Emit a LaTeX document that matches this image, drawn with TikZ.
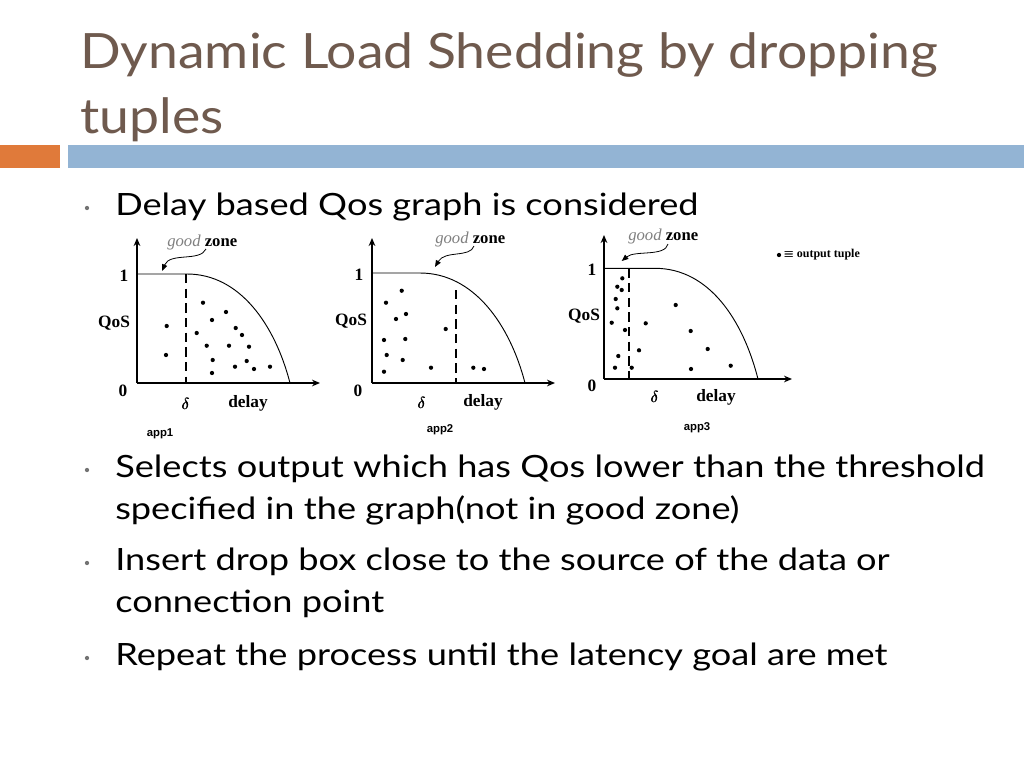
\documentclass[tikz,border=0pt]{standalone}
\usepackage{amsmath,amssymb}
\usepackage{fontspec}
\setmainfont{Lato}
\newfontfamily\bodyf[FakeStretch=1.18]{Lato}
\newfontfamily\titlef[FakeStretch=1.1]{Lato}
\newfontfamily\gserif{Liberation Serif}
\newfontfamily\gsans{Liberation Sans}
\usetikzlibrary{arrows.meta}
\definecolor{titlec}{HTML}{6F5A4E}
\definecolor{orangebar}{HTML}{E07A3A}
\definecolor{bluebar}{HTML}{93B4D4}
\tikzset{
  ax/.style={line width=1.6pt,-{Stealth[length=6pt,width=5pt]}},
  crv/.style={line width=0.7pt},
  dsh/.style={line width=1.6pt,dash pattern=on 7pt off 4pt},
  tup/.style={circle,fill=black,inner sep=0pt,minimum size=3.2pt},
  glab/.style={font=\gserif\bfseries\fontsize{13}{14}\selectfont,inner sep=0pt},
  alab/.style={font=\gsans\bfseries\fontsize{8.5}{10}\selectfont,inner sep=0pt},
  body/.style={font=\bodyf\fontsize{23}{27}\selectfont,anchor=base west,inner sep=0pt},
  bul/.style={circle,fill=gray!90!black,inner sep=0pt,minimum size=3.2pt},
  gz/.style={font=\gserif\fontsize{12.5}{13}\selectfont,inner sep=0pt},
}
\begin{document}
\begin{tikzpicture}[x=0.75pt,y=-0.75pt]
\useasboundingbox (0,0) rectangle (1024,768);
\fill[white] (0,0) rectangle (1024,768);
% title
\node[anchor=base west,inner sep=0pt,text=titlec,font=\titlef\fontsize{36.5}{40}\selectfont] (t1) at (80,68) {Dynamic Load Shedding by dropping};
\node[anchor=base west,inner sep=0pt,text=titlec,font=\titlef\fontsize{36.5}{40}\selectfont] (t2) at (80,133) {tuples};
\fill[orangebar] (0,145) rectangle (60,168);
\fill[bluebar] (68,145) rectangle (1024,168);
% bullets
\node[bul] (b1) at (87,208) {};
\node[body] (l1) at (115,215) {Delay based Qos graph is considered};
\node[bul] (b2) at (87,470) {};
\node[body] (l2) at (115,477) {Selects output which has Qos lower than the threshold};
\node[body] (l3) at (115,519) {specified in the graph(not in good zone)};
\node[bul] (b3) at (87,563) {};
\node[body] (l4) at (115,570) {Insert drop box close to the source of the data or};
\node[body] (l5) at (115,612) {connection point};
\node[bul] (b4) at (87,658) {};
\node[body] (l6) at (115,665) {Repeat the process until the latency goal are met};

% ---------- graph 1
\coordinate (o1) at (137,383);
\draw[ax] (o1) -- (137,238);
\draw[ax] (o1) -- (320,383);
\draw[crv] (137,274) -- (187,274) .. controls (240,274) and (275,325) .. (290,383);
\draw[dsh] (185.7,274) -- (185.7,383);
\node[glab] (g1one) at (124,276) {1};
\node[glab] (g1q) at (114,323) {QoS};
\node[glab] (g1z) at (123,391) {0};
\node[glab] (g1d) at (186,404) {$\pmb{\delta}$};
\node[glab] (g1del) at (248,403) {delay};
\node[alab] (g1a) at (160,434) {app1};
\node[gz,anchor=west] (g1gz) at (167,242) {\textcolor{gray}{\itshape good} \bfseries zone};
\coordinate (g1e) at (162,271);
\draw[line width=0.6pt,-{Triangle[length=5pt,width=4pt]}] (206,249) .. controls (200,262) and (170,252) .. (g1e);
\foreach \p in {(166.7,326),(166,355),(203,302.7),(226,312),(212,320),(235.7,328),(242,335),(196.7,333),(206.7,345.7),(229,345.7),(249,346.7),(212.7,360),(246.7,361),(235,366.7),(254,369),(270,366.7),(212,373)}
  \node[tup] at \p {};

% ---------- graph 2
\coordinate (o2) at (372,383);
\draw[ax] (o2) -- (372,238);
\draw[ax] (o2) -- (555,383);
\draw[crv] (372,273) -- (420,273) .. controls (474,273) and (510,325) .. (525,383);
\draw[dsh] (455.7,290) -- (455.7,383);
\node[glab] (g2one) at (359,275) {1};
\node[glab] (g2q) at (351,321) {QoS};
\node[glab] (g2z) at (358,391) {0};
\node[glab] (g2d) at (422,403) {$\pmb{\delta}$};
\node[glab] (g2del) at (483,402) {delay};
\node[alab] (g2a) at (440,430) {app2};
\node[gz,anchor=west] (g2gz) at (435,239) {\textcolor{gray}{\itshape good} \bfseries zone};
\coordinate (g2e) at (435,267);
\draw[line width=0.6pt,-{Triangle[length=5pt,width=4pt]}] (474,246) .. controls (470,258) and (445,250) .. (g2e);
\foreach \p in {(401.7,290.7),(386,302.7),(406,314),(396,319),(445.7,329),(384,340),(405.3,339),(386.7,355),(402.7,360),(384,371.7),(431,367.7),(473.3,367.7),(484,369)}
  \node[tup] at \p {};

% ---------- graph 3
\coordinate (o3) at (604,379);
\draw[ax] (o3) -- (604,235);
\draw[ax] (o3) -- (792,379);
\draw[crv] (604,268.3) -- (655,268.3) .. controls (709,268.3) and (743,320) .. (758,379);
\draw[dsh] (629,268.3) -- (629,379);
\node[glab] (g3one) at (592,270) {1};
\node[glab] (g3q) at (584,316) {QoS};
\node[glab] (g3z) at (592,386) {0};
\node[glab] (g3d) at (655,397) {$\pmb{\delta}$};
\node[glab] (g3del) at (716,397) {delay};
\node[alab] (g3a) at (697,428) {app3};
\node[gz,anchor=west] (g3gz) at (628,236) {\textcolor{gray}{\itshape good} \bfseries zone};
\coordinate (g3e) at (621.7,261);
\draw[line width=0.6pt,-{Triangle[length=5pt,width=4pt]}] (668,244) .. controls (665,257) and (635,250) .. (g3e);
\foreach \p in {(622.3,278.3),(617.3,286.7),(621.7,290),(615.7,299),(617.3,308.3),(611.7,322.7),(645.7,323.3),(625,330),(690.7,331),(675.7,305),(639,350.3),(707.7,349),(618.3,356),(615,367.7),(631.7,367.7),(691,369),(730.7,365.7)}
  \node[tup] at \p {};
% legend
\node[tup] (lgd) at (779,255) {};
\node[anchor=west,inner sep=0pt,font=\gserif\bfseries\fontsize{9}{10}\selectfont] (lgt) at (784,255) {$\pmb{\equiv}$ output tuple};
\end{tikzpicture}
\end{document}
